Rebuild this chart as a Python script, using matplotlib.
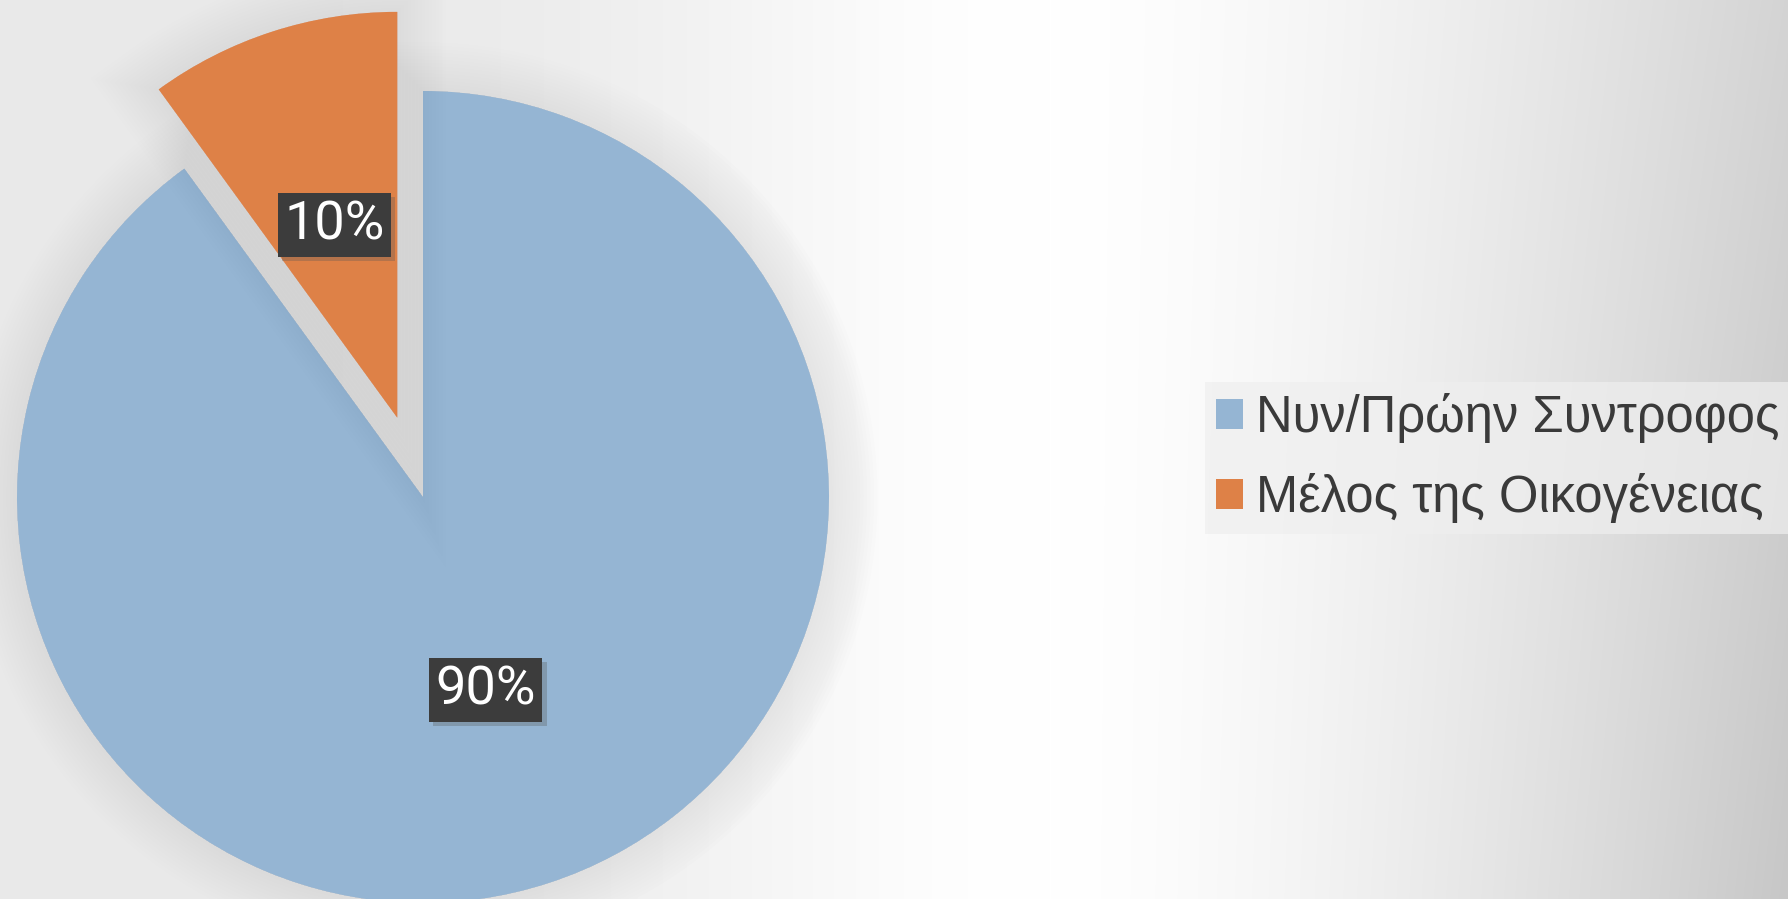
import numpy as np
import matplotlib
matplotlib.use("Agg")
import matplotlib.pyplot as plt
import matplotlib.patheffects as pe

# data
labels = ["Νυν/Πρώην Συντροφος", "Μέλος της Οικογένειας"]
values = [90, 10]
colors = ["#95b5d3", "#de8147"]

W, H = 1788, 899
fig = plt.figure(figsize=(W / 100, H / 100), dpi=100)

# background: grey on both sides, white band right of the pie
bg = fig.add_axes([0, 0, 1, 1])
xx, yy = np.meshgrid(np.arange(W, dtype=float), np.arange(H, dtype=float))
dx = xx - 1050.0
left = 0.085 * (1.0 - np.exp(-(dx / 380.0) ** 2))
right = (0.17 + 0.05 * yy / H) * (np.clip(dx, 0, None) / 738.0) ** 1.5
level = 1.0 - np.where(dx < 0, left, right)
bg.imshow(np.dstack([level] * 3), extent=(0, W, 0, H), origin="upper", aspect="auto")
bg.axis("off")

ax = fig.add_axes([0, 0, 1, 1])

radius = 406
wedges, texts, autotexts = ax.pie(
    values, colors=colors, startangle=90, counterclock=False,
    center=(423, H - 497), radius=radius, explode=[0, 0.205 * radius],
    autopct="%1.0f%%", pctdistance=0.5, frame=True,
    textprops=dict(color="white", fontsize=39, family="Roboto"),
)
ax.set_xlim(0, W)
ax.set_ylim(0, H)
ax.axis("off")

# soft shadow around the slices
glow = [pe.Stroke(linewidth=w, foreground="#707070", alpha=0.008) for w in range(70, 0, -5)]
for w in wedges:
    w.set_path_effects(glow + [pe.Normal()])

for t in autotexts:
    t.set_bbox(dict(boxstyle="square,pad=0.12", fc="#3c3c3c", ec="none"))
    t.get_bbox_patch().set_path_effects(
        [pe.SimplePatchShadow(offset=(3, -3), shadow_rgbFace="#555555", alpha=0.3), pe.Normal()])

leg = ax.legend(
    wedges, labels, loc="center left", bbox_to_anchor=(1205 / W, (H - 458) / H),
    prop=dict(family="Liberation Sans", size=36.5), frameon=True, facecolor="#efefef",
    edgecolor="none", framealpha=0.7, fancybox=False, handlelength=0.52,
    handleheight=0.52, handletextpad=0.27, labelspacing=0.6, borderpad=0.22,
    borderaxespad=0,
)
for t in leg.get_texts():
    t.set_color("#3a3a3a")
for h in leg.legend_handles:
    h.set_path_effects([])

fig.savefig("out.png", dpi=100)
